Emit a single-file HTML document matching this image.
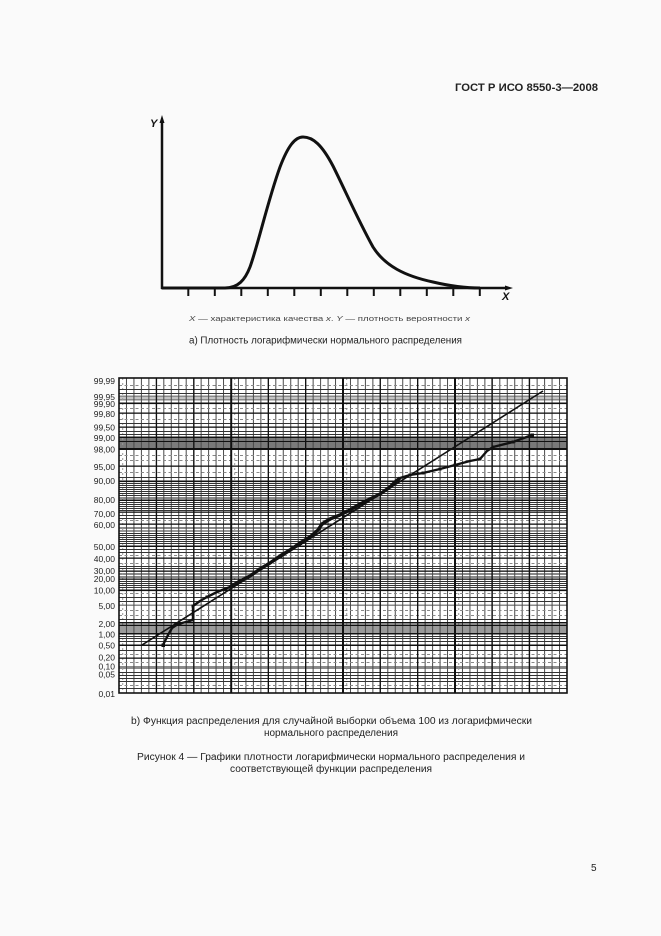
<!DOCTYPE html>
<html><head><meta charset="utf-8"><style>
html,body{margin:0;padding:0;background:#fafafa;}
svg{display:block;}
text{font-family:"Liberation Sans",Arial,sans-serif;}
</style></head><body>
<svg width="661" height="936" viewBox="0 0 661 936" xmlns="http://www.w3.org/2000/svg">
<rect x="0" y="0" width="661" height="936" fill="#fafafa"/>
<!-- header -->
<text x="455" y="91" font-size="11" font-weight="bold" fill="#222" textLength="143" lengthAdjust="spacingAndGlyphs">ГОСТ Р ИСО 8550-3—2008</text>

<!-- top chart -->
<g stroke="#111" fill="none">
  <line x1="162" y1="120" x2="162" y2="289" stroke-width="2.5"/>
  <line x1="161" y1="288" x2="507" y2="288" stroke-width="2.5"/>
  <g stroke-width="2">
    <line x1="188.3" y1="289" x2="188.3" y2="296"/>
    <line x1="214.8" y1="289" x2="214.8" y2="296"/>
    <line x1="241.3" y1="289" x2="241.3" y2="296"/>
    <line x1="267.8" y1="289" x2="267.8" y2="296"/>
    <line x1="294.3" y1="289" x2="294.3" y2="296"/>
    <line x1="320.8" y1="289" x2="320.8" y2="296"/>
    <line x1="347.3" y1="289" x2="347.3" y2="296"/>
    <line x1="373.8" y1="289" x2="373.8" y2="296"/>
    <line x1="400.3" y1="289" x2="400.3" y2="296"/>
    <line x1="426.8" y1="289" x2="426.8" y2="296"/>
    <line x1="453.3" y1="289" x2="453.3" y2="296"/>
    <line x1="479.8" y1="289" x2="479.8" y2="296"/>
  </g>
  <path d="M162,288 L225,288 C238,288 245,280 250,267 C258,245 268,200 280,167 C288,146 295,137 303,137 C313,137 322,145 333,166 C345,190 358,220 373,247 C385,266 405,276 433,282 C450,286 465,288 480,288" stroke-width="3"/>
</g>
<polygon points="162,115 159.5,123 164.5,123" fill="#111"/>
<polygon points="513,288 505,285.5 505,290.5" fill="#111"/>
<text x="150" y="127" font-size="11" font-weight="bold" font-style="italic" fill="#111">Y</text>
<text x="502" y="300" font-size="11" font-weight="bold" font-style="italic" fill="#111">X</text>

<text x="189" y="321" font-size="7.5" fill="#444" textLength="281" lengthAdjust="spacingAndGlyphs"><tspan font-style="italic">X</tspan> — характеристика качества <tspan font-style="italic">x</tspan>.  <tspan font-style="italic">Y</tspan> — плотность вероятности <tspan font-style="italic">x</tspan></text>
<text x="189" y="343.5" font-size="10" fill="#222" textLength="273" lengthAdjust="spacingAndGlyphs">а) Плотность логарифмически нормального распределения</text>

<!-- probability chart -->
<defs>
  <pattern id="vfine" x="118.5" y="0" width="7.4667" height="20" patternUnits="userSpaceOnUse">
    <rect x="0" y="0" width="1" height="20" fill="#4a4a4a"/>
  </pattern>
</defs>
<rect x="119" y="378" width="448" height="315" fill="#ffffff"/>

<!-- bands -->
<rect x="119" y="437" width="448" height="12" fill="#7a7a7a"/>
<rect x="119" y="626" width="448" height="7" fill="#9a9a9a"/>
<rect x="119" y="666" width="448" height="3" fill="#8a8a8a"/>
<rect x="119" y="395.5" width="448" height="2" fill="#8a8a8a"/>
<rect x="119" y="398.5" width="448" height="2" fill="#8a8a8a"/>
<rect x="119" y="497" width="448" height="2" fill="#8a8a8a"/>
<rect x="119" y="527" width="448" height="2" fill="#8a8a8a"/>
<rect x="119" y="530" width="448" height="2" fill="#999"/>
<rect x="119" y="573" width="448" height="2" fill="#8a8a8a"/>
<rect x="119" y="576" width="448" height="2" fill="#8a8a8a"/>
<rect x="119" y="604.5" width="448" height="1.5" fill="#8a8a8a"/>

<!-- vertical fine grid -->
<rect x="119" y="378" width="448" height="315" fill="url(#vfine)"/>
<g stroke="#999" stroke-width="1" stroke-dasharray="2,3">
  <line x1="122.7" y1="378" x2="122.7" y2="693"/>
  <line x1="234.7" y1="378" x2="234.7" y2="693"/>
  <line x1="346.7" y1="378" x2="346.7" y2="693"/>
  <line x1="458.7" y1="378" x2="458.7" y2="693"/>
</g>

<!-- horizontal thin lines -->
<g fill="#333">
  <rect x="119" y="389" width="448" height="1"/>
  <rect x="119" y="393" width="448" height="1"/>
  <rect x="119" y="423" width="448" height="1"/>
  <rect x="119" y="431" width="448" height="1"/>
  <rect x="119" y="434" width="448" height="1"/>
  <rect x="119" y="477" width="448" height="1"/>
  <rect x="119" y="483" width="448" height="1"/>
  <rect x="119" y="485" width="448" height="1"/>
  <rect x="119" y="487" width="448" height="1"/>
  <rect x="119" y="489" width="448" height="1"/>
  <rect x="119" y="491" width="448" height="1"/>
  <rect x="119" y="493" width="448" height="1"/>
  <rect x="119" y="495" width="448" height="1"/>
  <rect x="119" y="502" width="448" height="1"/>
  <rect x="119" y="504" width="448" height="1"/>
  <rect x="119" y="506" width="448" height="1"/>
  <rect x="119" y="508" width="448" height="1"/>
  <rect x="119" y="510" width="448" height="1"/>
  <rect x="119" y="515" width="448" height="1"/>
  <rect x="119" y="518" width="448" height="1"/>
  <rect x="119" y="533" width="448" height="1"/>
  <rect x="119" y="535" width="448" height="1"/>
  <rect x="119" y="537" width="448" height="1"/>
  <rect x="119" y="539" width="448" height="1"/>
  <rect x="119" y="541" width="448" height="1"/>
  <rect x="119" y="543" width="448" height="1"/>
  <rect x="119" y="549" width="448" height="1"/>
  <rect x="119" y="552" width="448" height="1"/>
  <rect x="119" y="566" width="448" height="1"/>
  <rect x="119" y="568" width="448" height="1"/>
  <rect x="119" y="581" width="448" height="1"/>
  <rect x="119" y="583" width="448" height="1"/>
  <rect x="119" y="585" width="448" height="1"/>
  <rect x="119" y="587" width="448" height="1"/>
  <rect x="119" y="597" width="448" height="1"/>
  <rect x="119" y="601" width="448" height="1"/>
  <rect x="119" y="619" width="448" height="1"/>
  <rect x="119" y="636" width="448" height="1"/>
  <rect x="119" y="638" width="448" height="1"/>
  <rect x="119" y="641" width="448" height="1"/>
  <rect x="119" y="650" width="448" height="1"/>
  <rect x="119" y="672" width="448" height="1"/>
  <rect x="119" y="675" width="448" height="1"/>
  <rect x="119" y="678" width="448" height="1"/>
  <rect x="119" y="681" width="448" height="1"/>
  <rect x="119" y="688" width="448" height="1"/>
</g>
<!-- dashed gray lines -->
<g stroke="#888" stroke-width="1" stroke-dasharray="3,2.5">
  <line x1="119" y1="385.5" x2="567" y2="385.5"/>
  <line x1="119" y1="408.5" x2="567" y2="408.5"/>
  <line x1="119" y1="419.5" x2="567" y2="419.5"/>
  <line x1="119" y1="455.5" x2="567" y2="455.5"/>
  <line x1="119" y1="460.5" x2="567" y2="460.5"/>
  <line x1="119" y1="472.5" x2="567" y2="472.5"/>
  <line x1="119" y1="520.5" x2="567" y2="520.5"/>
  <line x1="119" y1="555.5" x2="567" y2="555.5"/>
  <line x1="119" y1="563.5" x2="567" y2="563.5"/>
  <line x1="119" y1="593.5" x2="567" y2="593.5"/>
  <line x1="119" y1="610.5" x2="567" y2="610.5"/>
  <line x1="119" y1="615.5" x2="567" y2="615.5"/>
  <line x1="119" y1="654.5" x2="567" y2="654.5"/>
  <line x1="119" y1="662.5" x2="567" y2="662.5"/>
  <line x1="119" y1="685.5" x2="567" y2="685.5"/>
</g>
<!-- black horizontal major lines -->
<g fill="#111">
  <rect x="119" y="402.5" width="448" height="1.6"/>
  <rect x="119" y="412.5" width="448" height="1.3"/>
  <rect x="119" y="426.5" width="448" height="1.3"/>
  <rect x="119" y="436.5" width="448" height="1.5"/>
  <rect x="119" y="441" width="448" height="1"/>
  <rect x="119" y="448" width="448" height="2"/>
  <rect x="119" y="465.5" width="448" height="1.3"/>
  <rect x="119" y="480.5" width="448" height="1.6"/>
  <rect x="119" y="499.5" width="448" height="1.5"/>
  <rect x="119" y="511.5" width="448" height="1.3"/>
  <rect x="119" y="523.5" width="448" height="1.3"/>
  <rect x="119" y="545.5" width="448" height="1.5"/>
  <rect x="119" y="557.5" width="448" height="1.3"/>
  <rect x="119" y="570.5" width="448" height="1.3"/>
  <rect x="119" y="578.5" width="448" height="1.3"/>
  <rect x="119" y="589.5" width="448" height="1.6"/>
  <rect x="119" y="622" width="448" height="1.5"/>
  <rect x="119" y="624.5" width="448" height="1.5"/>
  <rect x="119" y="633" width="448" height="1.5"/>
  <rect x="119" y="644.5" width="448" height="1.5"/>
  <rect x="119" y="657.5" width="448" height="1.3"/>
</g>
<!-- major verticals -->
<g fill="#111">
  <rect x="155.8" y="378" width="1.3" height="315"/>
  <rect x="193.2" y="378" width="1.3" height="315"/>
  <rect x="230.2" y="378" width="2" height="315"/>
  <rect x="267.7" y="378" width="1.3" height="315"/>
  <rect x="305" y="378" width="1.3" height="315"/>
  <rect x="342" y="378" width="2" height="315"/>
  <rect x="379.6" y="378" width="1.3" height="315"/>
  <rect x="417" y="378" width="1.3" height="315"/>
  <rect x="454" y="378" width="2" height="315"/>
  <rect x="491.4" y="378" width="1.3" height="315"/>
  <rect x="528.7" y="378" width="1.3" height="315"/>
</g>
<rect x="119" y="378" width="448" height="315" fill="none" stroke="#111" stroke-width="1.6"/>

<!-- straight line -->
<line x1="142" y1="645" x2="543" y2="391" stroke="#111" stroke-width="1.6"/>
<!-- empirical curve -->
<polyline fill="none" stroke="#111" stroke-width="2.4" stroke-linejoin="round" points="163,645 167,637 172,628 178,624 186,622 193,620 193,606 200,601 207,597 215,593 222,590 230,587 240,581 250,576 260,569 270,563 280,556 290,550 300,543 310,537 318,530 322,524 330,519 340,515 350,510 360,504 370,499 380,494 390,487 395,482 400,478 410,475 423,473 440,469 455,465 470,461 480,459 487,451 493,447 513,442 532,435"/>
<polyline fill="none" stroke="#111" stroke-width="3.4" stroke-linejoin="round" points="230,587 240,581 250,576 260,569 270,563 280,556 290,550 300,543 310,537 318,530 322,524 330,519 340,515 350,510 360,504 370,499 380,494 390,487 395,482 400,478"/>
<g fill="#111">
  <rect x="161.5" y="643.5" width="3.5" height="3.5"/>
  <rect x="191.5" y="618.5" width="3" height="3"/>
  <rect x="191.5" y="604.5" width="3" height="3"/>
  <rect x="205.5" y="595.5" width="3" height="3"/>
  <rect x="238.5" y="579.5" width="3" height="3"/>
  <rect x="258.5" y="567.5" width="3" height="3"/>
  <rect x="278.5" y="554.5" width="3.5" height="3.5"/>
  <rect x="298.5" y="541.5" width="3.5" height="3.5"/>
  <rect x="320.5" y="522.5" width="3" height="3"/>
  <rect x="348.5" y="508.5" width="3.5" height="3.5"/>
  <rect x="368.5" y="497.5" width="3.5" height="3.5"/>
  <rect x="393.5" y="480.5" width="3.5" height="3.5"/>
  <rect x="408.5" y="473.5" width="3" height="3"/>
  <rect x="421.5" y="471.5" width="3" height="3"/>
  <rect x="438.5" y="467.5" width="3" height="3"/>
  <rect x="453.5" y="463.5" width="3" height="3"/>
  <rect x="478.5" y="457.5" width="3" height="3"/>
  <rect x="491.5" y="445.5" width="3" height="3"/>
  <rect x="511.5" y="440.5" width="3" height="3"/>
  <rect x="530.5" y="433.5" width="3.5" height="3.5"/>
</g>

<!-- y labels -->
<g font-size="8.5" fill="#222" text-anchor="end">
  <text x="115" y="384">99,99</text>
  <text x="115" y="400">99,95</text>
  <text x="115" y="407">99,90</text>
  <text x="115" y="417">99,80</text>
  <text x="115" y="430.5">99,50</text>
  <text x="115" y="441">99,00</text>
  <text x="115" y="452.5">98,00</text>
  <text x="115" y="470">95,00</text>
  <text x="115" y="484">90,00</text>
  <text x="115" y="503">80,00</text>
  <text x="115" y="517">70,00</text>
  <text x="115" y="528">60,00</text>
  <text x="115" y="550">50,00</text>
  <text x="115" y="562">40,00</text>
  <text x="115" y="574">30,00</text>
  <text x="115" y="582">20,00</text>
  <text x="115" y="593.5">10,00</text>
  <text x="115" y="609">5,00</text>
  <text x="115" y="627">2,00</text>
  <text x="115" y="637.5">1,00</text>
  <text x="115" y="648.5">0,50</text>
  <text x="115" y="660.5">0,20</text>
  <text x="115" y="669.5">0,10</text>
  <text x="115" y="677.5">0,05</text>
  <text x="115" y="697">0,01</text>
</g>

<!-- captions -->
<text x="131" y="724" font-size="10" fill="#222" textLength="401" lengthAdjust="spacingAndGlyphs">b) Функция распределения для случайной выборки объема 100 из логарифмически</text>
<text x="331" y="736" font-size="10" fill="#222" text-anchor="middle" textLength="134" lengthAdjust="spacingAndGlyphs">нормального распределения</text>
<text x="137" y="760" font-size="10" fill="#222" textLength="388" lengthAdjust="spacingAndGlyphs">Рисунок 4 — Графики плотности логарифмически нормального распределения и</text>
<text x="331" y="772" font-size="10" fill="#222" text-anchor="middle" textLength="202" lengthAdjust="spacingAndGlyphs">соответствующей функции распределения</text>

<text x="591" y="871" font-size="10" fill="#222">5</text>
</svg>
</body></html>
